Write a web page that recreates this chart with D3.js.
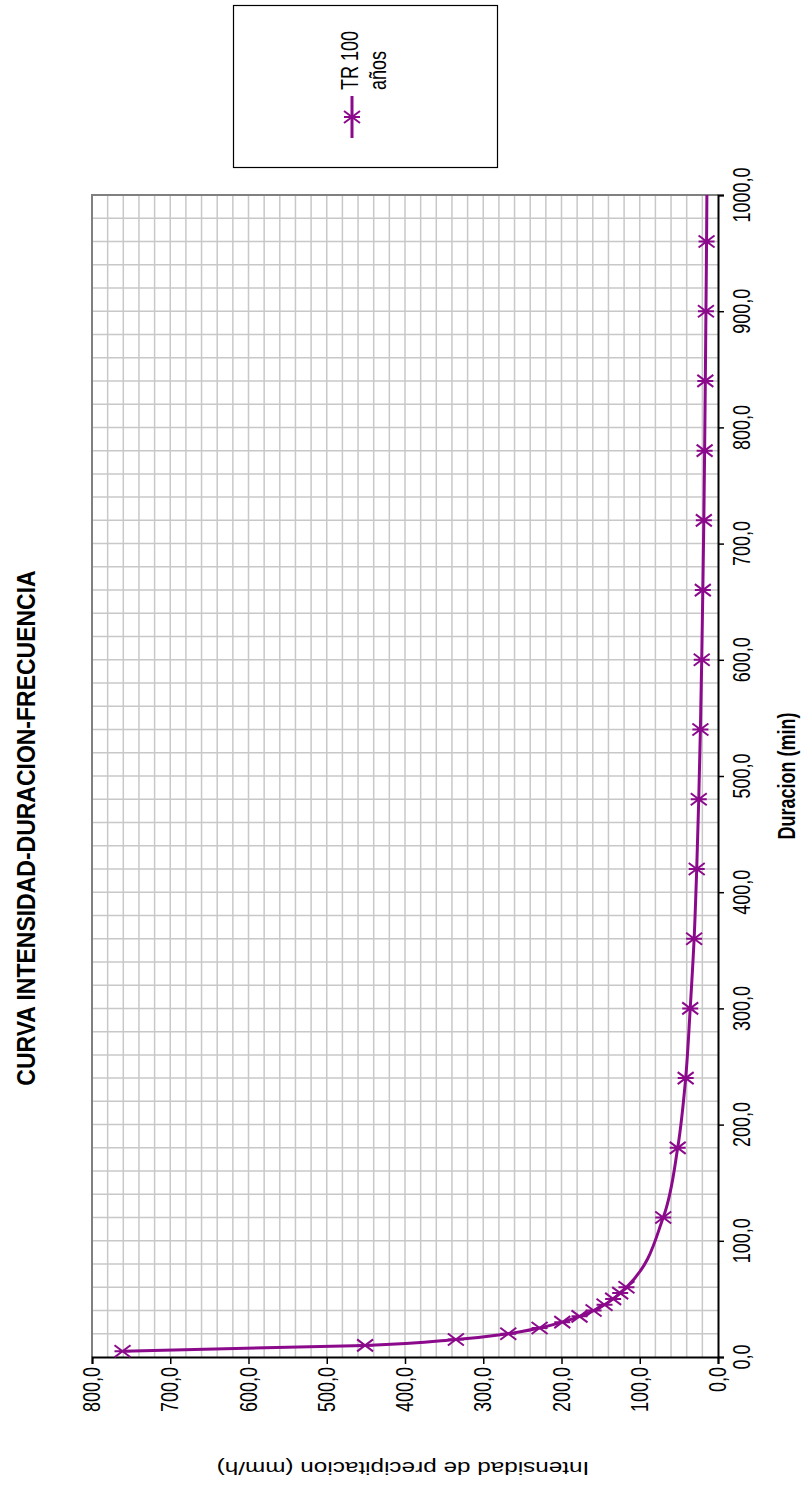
<!DOCTYPE html>
<html>
<head>
<meta charset="utf-8">
<script src="https://cdn.jsdelivr.net/npm/d3@7"></script>
<style>
  body { margin: 0; background: #fff; }
  text { font-family: "Liberation Sans", Arial, sans-serif; fill: #000; }
</style>
</head>
<body>
<div id="chart"></div>
<script>
// duration (min) and intensity (mm/h) for TR 100 años
// the last point lies past the 1000 min axis end and is clipped like in the original
var durations = [5, 10, 15, 20, 25, 30, 35, 40, 45, 50, 55, 60,
  120, 180, 240, 300, 360, 420, 480, 540, 600, 660, 720, 780, 840, 900, 960, 1020];
var intensities = [761, 451, 335, 268, 228, 199, 177, 159, 145, 134, 125, 117,
  70, 51.5, 41.3, 35.5, 30.5, 27.2, 24.6, 22.5, 20.8, 19.4, 18.1, 17.1, 16.2, 15.4, 14.6, 14.0];
var seriesName = ["TR 100", "años"];
var durTicks = [0, 100, 200, 300, 400, 500, 600, 700, 800, 900, 1000];
var intTicks = [0, 100, 200, 300, 400, 500, 600, 700, 800];

var W = 804, H = 1489;
var color = "#8B0A8B";
var stretch = 1.35; // glyphs look taller across the page than along it

var svg = d3.select("#chart").append("svg")
    .attr("width", W)
    .attr("height", H);

// chart is drawn turned a quarter: intensity runs right-to-left along the bottom,
// duration runs bottom-to-top on the right side
var x = d3.scaleLinear().domain([800, 0]).range([92, 718]);
var y = d3.scaleLinear().domain([0, 1000]).range([1357, 195]);

var fmtLocale = d3.formatLocale({decimal: ",", thousands: ".", grouping: [3], currency: ["", ""]});
var fmt = fmtLocale.format(".1f");

svg.append("clipPath").attr("id", "plotclip")
  .append("rect")
    .attr("x", x(800)).attr("y", y(1000))
    .attr("width", x(0) - x(800)).attr("height", y(0) - y(1000));

// grid every 20 units both ways
var grid = svg.append("g").attr("class", "grid");
grid.selectAll(".gx")
    .data(d3.range(20, 800, 20))
  .enter().append("line")
    .attr("x1", function(d) { return x(d); })
    .attr("x2", function(d) { return x(d); })
    .attr("y1", y(1000))
    .attr("y2", y(0))
    .attr("stroke", "#c8c8c8")
    .attr("stroke-width", 1.5);
grid.selectAll(".gy")
    .data(d3.range(20, 1000, 20))
  .enter().append("line")
    .attr("y1", function(d) { return y(d); })
    .attr("y2", function(d) { return y(d); })
    .attr("x1", x(800))
    .attr("x2", x(0))
    .attr("stroke", "#c8c8c8")
    .attr("stroke-width", 1.5);

// plot area border (left / top)
svg.append("path")
    .attr("d", "M" + x(800) + "," + y(0) + "V" + y(1000) + "H" + x(0))
    .attr("fill", "none")
    .attr("stroke", "#808080")
    .attr("stroke-width", 2);

// duration axis on the right
var durAxis = svg.append("g")
    .attr("transform", "translate(" + x(0) + ",0)")
    .call(d3.axisRight(y).tickValues(durTicks).tickSize(6).tickFormat(""));
durAxis.select(".domain").attr("stroke", "#000").attr("stroke-width", 2);
durAxis.selectAll(".tick line").attr("stroke", "#000").attr("stroke-width", 1.5);

svg.append("g").selectAll("text")
    .data(durTicks)
  .enter().append("text")
    .attr("transform", function(d) {
      return "translate(750," + y(d) + ") rotate(-90) scale(1," + stretch + ")";
    })
    .attr("text-anchor", "middle")
    .style("font-size", "18px")
    .text(function(d) { return fmt(d); });

// intensity axis at the bottom
var intAxis = svg.append("g")
    .attr("transform", "translate(0," + y(0) + ")")
    .call(d3.axisBottom(x).tickValues(intTicks).tickSize(7).tickFormat(""));
intAxis.select(".domain").attr("stroke", "#000").attr("stroke-width", 2);
intAxis.selectAll(".tick line").attr("stroke", "#000").attr("stroke-width", 1.5);

svg.append("g").selectAll("text")
    .data(intTicks)
  .enter().append("text")
    .attr("transform", function(d) {
      return "translate(" + (x(d) + 8) + ",1367) rotate(-90) scale(1," + stretch + ")";
    })
    .attr("text-anchor", "end")
    .style("font-size", "18px")
    .text(function(d) { return fmt(d); });

// axis titles
svg.append("text")
    .attr("transform", "translate(795,776) rotate(-90) scale(1," + stretch + ")")
    .attr("text-anchor", "middle")
    .style("font-size", "18px")
    .style("font-weight", "bold")
    .text("Duracion (min)");

svg.append("text")
    .attr("transform", "translate(403,1462) rotate(180) scale(" + stretch + ",1)")
    .attr("text-anchor", "middle")
    .style("font-size", "18px")
    .text("Intensidad de precipitacion (mm/h)");

svg.append("text")
    .attr("transform", "translate(35,828) rotate(-90) scale(1,1.1)")
    .attr("text-anchor", "middle")
    .style("font-size", "23px")
    .style("font-weight", "bold")
    .text("CURVA INTENSIDAD-DURACION-FRECUENCIA");

// series
var pts = durations.map(function(d, i) { return {d: d, v: intensities[i]}; });

var line = d3.line()
    .x(function(p) { return x(p.v); })
    .y(function(p) { return y(p.d); })
    .curve(d3.curveMonotoneY);

svg.append("path")
    .datum(pts)
    .attr("clip-path", "url(#plotclip)")
    .attr("d", line)
    .attr("fill", "none")
    .attr("stroke", color)
    .attr("stroke-width", 3);

function star(g) {
  g.append("path")
    .attr("d", "M-8,-6L8,6M-8,6L8,-6M-8,0H8")
    .attr("stroke", color)
    .attr("stroke-width", 2)
    .attr("fill", "none");
}

svg.append("g").selectAll("g")
    .data(pts.filter(function(p) { return p.d <= 1000; }))
  .enter().append("g")
    .attr("transform", function(p) { return "translate(" + x(p.v) + "," + y(p.d) + ")"; })
    .call(star);

// legend
var leg = svg.append("g");
leg.append("rect")
    .attr("x", 233.5).attr("y", 5.5)
    .attr("width", 264).attr("height", 162)
    .attr("fill", "#fff")
    .attr("stroke", "#000")
    .attr("stroke-width", 1.2);
leg.append("line")
    .attr("x1", 352).attr("x2", 352)
    .attr("y1", 96).attr("y2", 138)
    .attr("stroke", color)
    .attr("stroke-width", 3);
leg.append("g")
    .attr("transform", "translate(352,117)")
    .call(star);
leg.selectAll(".lt")
    .data(seriesName)
  .enter().append("text")
    .attr("transform", function(d, i) {
      return "translate(" + (358 + i * 28) + ",90) rotate(-90) scale(1," + stretch + ")";
    })
    .attr("text-anchor", "start")
    .style("font-size", "18px")
    .text(function(d) { return d; });
</script>
</body>
</html>
